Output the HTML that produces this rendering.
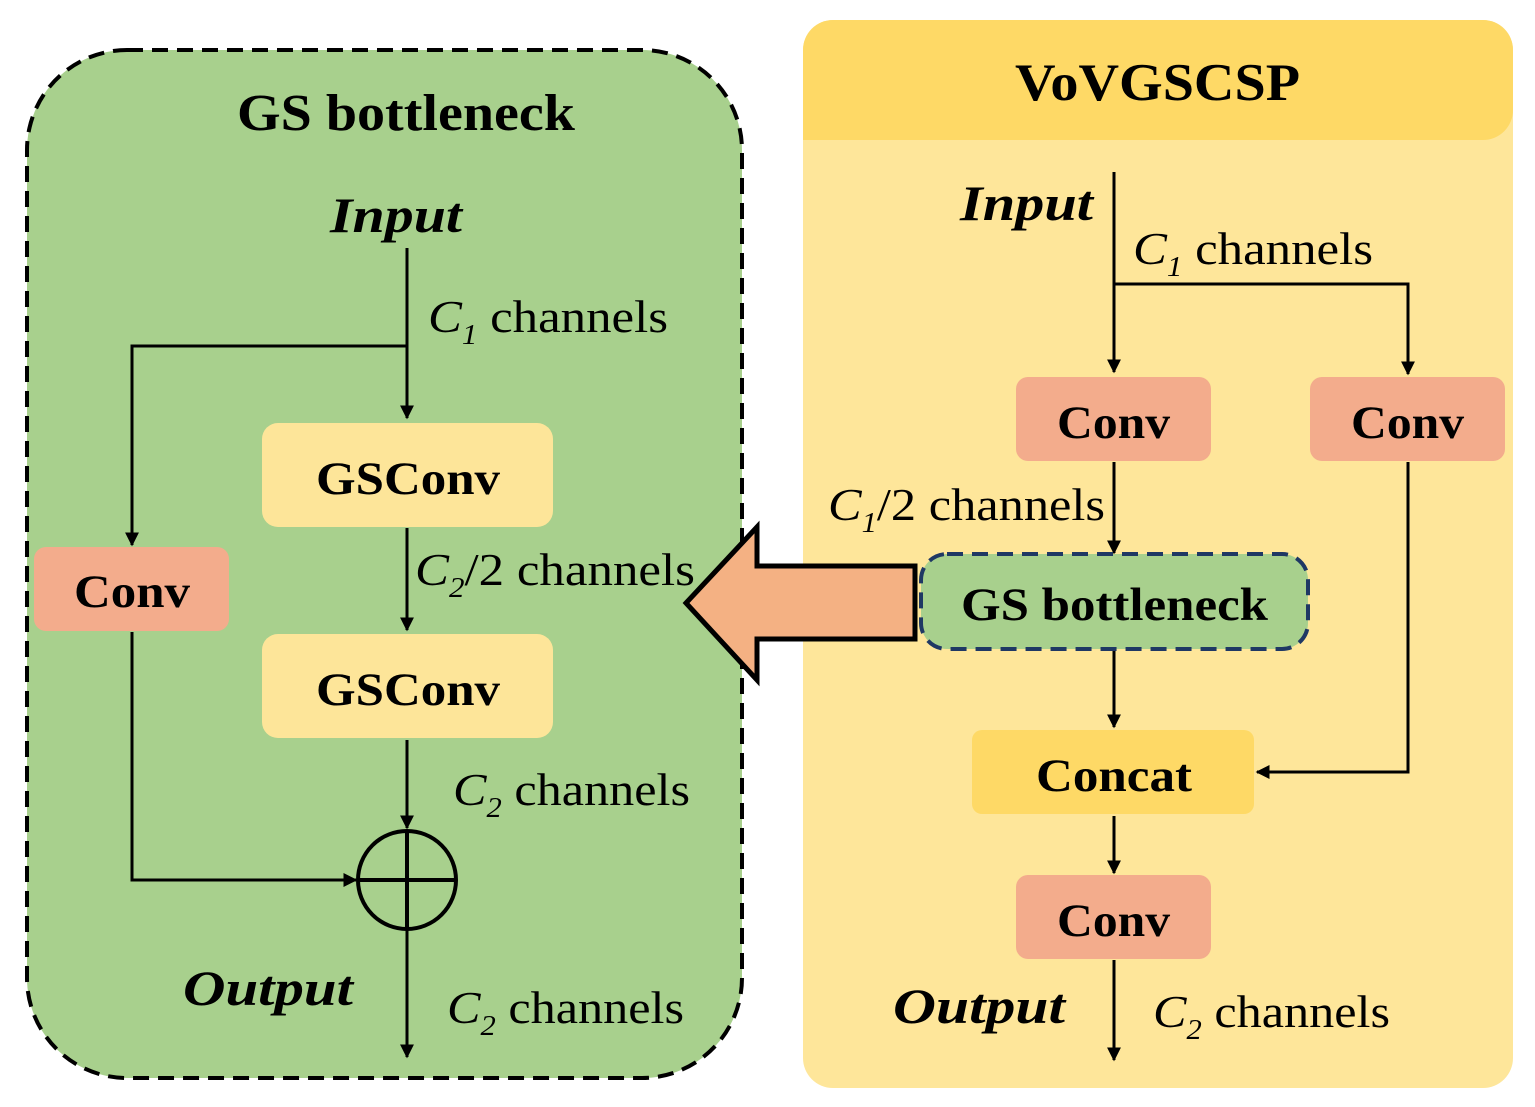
<!DOCTYPE html>
<html><head><style>body{margin:0;background:#fff}svg{display:block}</style></head><body>
<svg width="1535" height="1107" viewBox="0 0 1535 1107" xmlns="http://www.w3.org/2000/svg" font-family="Liberation Serif, serif">
<defs><marker id="a" viewBox="0 0 10 10" refX="9" refY="5" markerWidth="14" markerHeight="14" markerUnits="userSpaceOnUse" orient="auto"><path d="M0,0L10,5L0,10z" fill="#000"/></marker></defs>
<rect x="27" y="50" width="715" height="1028" rx="100" fill="#a8d08d" stroke="#000" stroke-width="4" stroke-dasharray="16,9"/>
<text x="237" y="130" font-size="52" font-weight="bold" textLength="338" lengthAdjust="spacingAndGlyphs">GS bottleneck</text>
<text x="330" y="232" font-size="50" font-weight="bold" font-style="italic" textLength="132" lengthAdjust="spacingAndGlyphs">Input</text>
<g stroke="#000" stroke-width="3" fill="none">
<line x1="407" y1="248" x2="407" y2="418" marker-end="url(#a)"/>
<polyline points="407,346 132,346 132,545" marker-end="url(#a)"/>
<line x1="407" y1="528" x2="407" y2="630" marker-end="url(#a)"/>
<line x1="407" y1="740" x2="407" y2="828" marker-end="url(#a)"/>
<polyline points="132,632 132,880 356,880" marker-end="url(#a)"/>
<line x1="407" y1="930" x2="407" y2="1057" marker-end="url(#a)"/>
<circle cx="407" cy="880" r="49" stroke-width="4"/>
<line x1="358" y1="880" x2="456" y2="880" stroke-width="4"/>
<line x1="407" y1="831" x2="407" y2="929" stroke-width="4"/>
</g>
<g font-size="46">
<text x="428" y="332" textLength="240" lengthAdjust="spacingAndGlyphs"><tspan font-style="italic">C</tspan><tspan font-size="28" dy="12" font-style="italic">1</tspan><tspan dy="-12"> channels</tspan></text>
<text x="415" y="585" textLength="280" lengthAdjust="spacingAndGlyphs"><tspan font-style="italic">C</tspan><tspan font-size="28" dy="12" font-style="italic">2</tspan><tspan dy="-12">/2 channels</tspan></text>
<text x="453" y="805" textLength="237" lengthAdjust="spacingAndGlyphs"><tspan font-style="italic">C</tspan><tspan font-size="28" dy="12" font-style="italic">2</tspan><tspan dy="-12"> channels</tspan></text>
<text x="447" y="1023" textLength="237" lengthAdjust="spacingAndGlyphs"><tspan font-style="italic">C</tspan><tspan font-size="28" dy="12" font-style="italic">2</tspan><tspan dy="-12"> channels</tspan></text></g>
<rect x="262" y="423" width="291" height="104" rx="16" fill="#fde599"/>
<text x="316" y="494" font-size="47" font-weight="bold" textLength="184" lengthAdjust="spacingAndGlyphs">GSConv</text>
<rect x="262" y="634" width="291" height="104" rx="16" fill="#fde599"/>
<text x="316" y="705" font-size="47" font-weight="bold" textLength="184" lengthAdjust="spacingAndGlyphs">GSConv</text>
<rect x="34" y="547" width="195" height="84" rx="12" fill="#f3ac8c"/>
<text x="74" y="607" font-size="47" font-weight="bold" textLength="116" lengthAdjust="spacingAndGlyphs">Conv</text>
<text x="183" y="1005" font-size="50" font-weight="bold" font-style="italic" textLength="170" lengthAdjust="spacingAndGlyphs">Output</text>
<rect x="803" y="20" width="710" height="1068" rx="30" fill="#fee69a"/>
<path d="M803,140 V50 a30,30 0 0 1 30,-30 H1483 a30,30 0 0 1 30,30 V110 a30,30 0 0 1 -30,30 Z" fill="#fed966"/>
<text x="1015" y="100" font-size="53" font-weight="bold" textLength="285" lengthAdjust="spacingAndGlyphs">VoVGSCSP</text>
<text x="960" y="220" font-size="50" font-weight="bold" font-style="italic" textLength="133" lengthAdjust="spacingAndGlyphs">Input</text>
<g stroke="#000" stroke-width="3" fill="none">
<line x1="1114" y1="172" x2="1114" y2="372" marker-end="url(#a)"/>
<polyline points="1114,284 1408,284 1408,374" marker-end="url(#a)"/>
<line x1="1114" y1="462" x2="1114" y2="553" marker-end="url(#a)"/>
<line x1="1114" y1="650" x2="1114" y2="727" marker-end="url(#a)"/>
<polyline points="1408,462 1408,772 1257,772" marker-end="url(#a)"/>
<line x1="1114" y1="816" x2="1114" y2="873" marker-end="url(#a)"/>
<line x1="1114" y1="960" x2="1114" y2="1060" marker-end="url(#a)"/>
</g>
<g font-size="46">
<text x="1133" y="264" textLength="240" lengthAdjust="spacingAndGlyphs"><tspan font-style="italic">C</tspan><tspan font-size="28" dy="12" font-style="italic">1</tspan><tspan dy="-12"> channels</tspan></text>
<text x="828" y="520" textLength="277" lengthAdjust="spacingAndGlyphs"><tspan font-style="italic">C</tspan><tspan font-size="28" dy="12" font-style="italic">1</tspan><tspan dy="-12">/2 channels</tspan></text>
<text x="1153" y="1027" textLength="237" lengthAdjust="spacingAndGlyphs"><tspan font-style="italic">C</tspan><tspan font-size="28" dy="12" font-style="italic">2</tspan><tspan dy="-12"> channels</tspan></text></g>
<rect x="1016" y="377" width="195" height="84" rx="12" fill="#f3ac8c"/>
<text x="1057" y="438" font-size="47" font-weight="bold" textLength="113" lengthAdjust="spacingAndGlyphs">Conv</text>
<rect x="1310" y="377" width="195" height="84" rx="12" fill="#f3ac8c"/>
<text x="1351" y="438" font-size="47" font-weight="bold" textLength="113" lengthAdjust="spacingAndGlyphs">Conv</text>
<rect x="921" y="554" width="387" height="95" rx="26" fill="#a8d08d" stroke="#1f3864" stroke-width="4" stroke-dasharray="16,9"/>
<text x="961" y="620" font-size="47" font-weight="bold" textLength="307" lengthAdjust="spacingAndGlyphs">GS bottleneck</text>
<rect x="972" y="730" width="282" height="84" rx="10" fill="#fed966"/>
<text x="1036" y="791" font-size="47" font-weight="bold" textLength="156" lengthAdjust="spacingAndGlyphs">Concat</text>
<rect x="1016" y="875" width="195" height="84" rx="12" fill="#f3ac8c"/>
<text x="1057" y="936" font-size="47" font-weight="bold" textLength="113" lengthAdjust="spacingAndGlyphs">Conv</text>
<text x="893" y="1023" font-size="50" font-weight="bold" font-style="italic" textLength="172" lengthAdjust="spacingAndGlyphs">Output</text>
<path d="M915,566 H757 V527 L686,603 L757,680 V639 H915 Z" fill="#f4b183" stroke="#000" stroke-width="5" stroke-linejoin="miter"/>
</svg>
</body></html>
